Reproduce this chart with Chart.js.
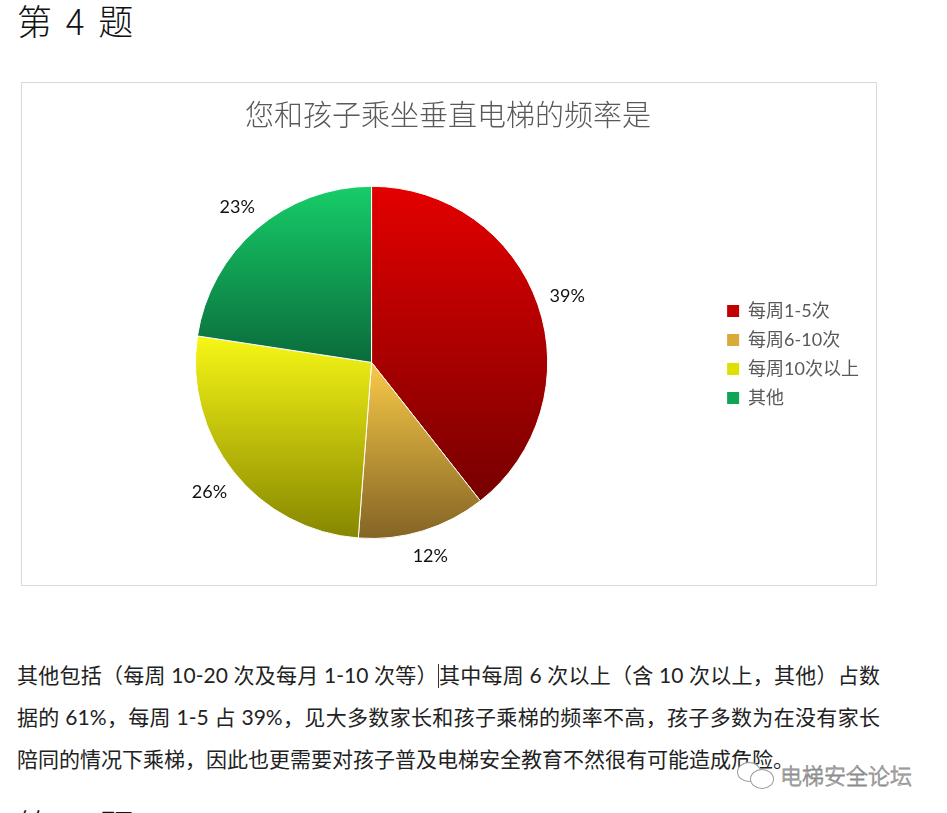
<!DOCTYPE html>
<html>
<head>
<meta charset="utf-8">
<script src="https://cdn.jsdelivr.net/npm/chart.js@4"></script>
<style>
  body { margin: 0; background: #fff; width: 947px; height: 813px; overflow: hidden; position: relative; }
  .heading { position: absolute; left: 17px; font: 300 35px "Noto Sans CJK SC", sans-serif; color: #111; line-height: 1; white-space: pre; word-spacing: 6px; }
  #box { position: absolute; left: 21px; top: 82px; width: 856px; height: 504px; box-sizing: border-box; border: 1px solid #d9d9d9; }
  #wrap { position: absolute; left: 0; top: 0; width: 854px; height: 502px; }
  #para { position: absolute; left: 17px; top: 654px; width: 863px; font: 21px Lato, "Noto Sans CJK SC", sans-serif; line-height: 42px; color: #222; text-align: justify; }
  #caret { display: inline-block; width: 1px; height: 24px; background: #333; vertical-align: -5px; }
  #mark { position: absolute; left: 780px; top: 758px; font: 300 22px "Noto Sans CJK SC", sans-serif; color: #fff; -webkit-text-stroke: 0.8px #8a8a8a; white-space: nowrap; }
  .bub { position: absolute; border: 1.5px solid #9a9a9a; border-radius: 50%; background: #fff; }
</style>
</head>
<body>
<div class="heading" style="top:2px">第 4 题</div>

<div id="box">
  <div id="wrap"><canvas id="grafico"></canvas></div>
</div>

<div id="para">其他包括（每周 10-20 次及每月 1-10 次等）<span id="caret"></span>其中每周 6 次以上（含 10 次以上，其他）占数据的 61%，每周 1-5 占 39%，见大多数家长和孩子乘梯的频率不高，孩子多数为在没有家长陪同的情况下乘梯，因此也更需要对孩子普及电梯安全教育不然很有可能造成危险。</div>

<div class="bub" style="left:737px;top:762px;width:22px;height:18px"></div>
<div class="bub" style="left:750px;top:769px;width:22px;height:18px"></div>
<div id="mark">电梯安全论坛</div>

<div class="heading" style="top:807px">第 5 题</div>

<script>
const categories = ["每周1-5次", "每周6-10次", "每周10次以上", "其他"];
const shares = [39.4, 11.8, 26.2, 22.6];
const chartTitle = "您和孩子乘坐垂直电梯的频率是";

// top / bottom colour of each slice gradient, and flat legend swatch
const topColors = ["#e40000", "#f9ca48", "#f7f716", "#17cd69"];
const bottomColors = ["#760000", "#836424", "#868600", "#0a6b3b"];
const swatchColors = ["#c20000", "#d9a93a", "#e0e000", "#11a455"];

function sliceGradient(context) {
    var chart = context.chart;
    var area = chart.chartArea;
    var i = context.dataIndex;
    if (!area) return topColors[i];
    var cx = (area.left + area.right) / 2;
    var cy = (area.top + area.bottom) / 2;
    var r = chart.getDatasetMeta(0).controller.outerRadius || Math.min(area.width, area.height) / 2;
    var total = shares.reduce(function (a, b) { return a + b; }, 0);
    var before = 0;
    for (var k = 0; k < i; k++) before += shares[k];
    var a0 = -Math.PI / 2 + 2 * Math.PI * before / total;
    var a1 = a0 + 2 * Math.PI * shares[i] / total;
    var ys = [cy, cy + r * Math.sin(a0), cy + r * Math.sin(a1)];
    [-Math.PI / 2, Math.PI / 2, 3 * Math.PI / 2].forEach(function (a) {
        if (a > a0 && a < a1) ys.push(cy + r * Math.sin(a));
    });
    var g = chart.ctx.createLinearGradient(0, Math.min.apply(null, ys), 0, Math.max.apply(null, ys));
    g.addColorStop(0, topColors[i]);
    g.addColorStop(1, bottomColors[i]);
    return g;
}

// percentage labels just outside each slice
var outsideLabels = {
    id: "outsideLabels",
    afterDatasetsDraw: function (chart) {
        var ctx = chart.ctx;
        var meta = chart.getDatasetMeta(0);
        ctx.save();
        ctx.font = "18px Lato";
        ctx.fillStyle = "#111";
        ctx.textAlign = "center";
        ctx.textBaseline = "middle";
        meta.data.forEach(function (arc, i) {
            var p = arc.getProps(["x", "y", "startAngle", "endAngle", "outerRadius"], true);
            var mid = (p.startAngle + p.endAngle) / 2;
            var dx = Math.cos(mid), dy = Math.sin(mid);
            var text = Math.round(shares[i]) + "%";
            var w = ctx.measureText(text).width;
            var d = p.outerRadius + 11 + Math.abs(dx) * w / 2 + Math.abs(dy) * 10;
            ctx.fillText(text, p.x + dx * d, p.y + dy * d + 1);
        });
        ctx.restore();
    }
};

var data = {
    labels: categories,
    datasets: [{
        data: shares,
        backgroundColor: sliceGradient,
        borderColor: "#ffffff",
        borderWidth: 1
    }]
};

var options = {
    responsive: true,
    maintainAspectRatio: false,
    animation: false,
    layout: { padding: { left: 5, right: 7, top: 0, bottom: 46 } },
    plugins: {
        tooltip: { enabled: false },
        title: {
            display: true,
            text: chartTitle,
            color: "#595959",
            font: { family: "'Noto Sans CJK SC', sans-serif", size: 29, weight: "300" },
            padding: { top: 15, bottom: 53 }
        },
        legend: {
            position: "right",
            align: "start",
            title: { display: true, text: "", font: { size: 12 }, padding: { top: 193.6, bottom: 0 } },
            labels: {
                boxWidth: 12,
                boxHeight: 12,
                padding: 11,
                color: "#595959",
                font: { family: "Lato, 'Noto Sans CJK SC', sans-serif", size: 18 },
                generateLabels: function (chart) {
                    var items = Chart.controllers.pie.overrides.plugins.legend.labels.generateLabels(chart);
                    items.forEach(function (item, i) {
                        item.fillStyle = swatchColors[i];
                        item.lineWidth = 0;
                        item.strokeStyle = swatchColors[i];
                    });
                    return items;
                }
            }
        }
    }
};

var ctx = document.querySelector("#grafico").getContext("2d");
var pieChart = new Chart(ctx, {
    type: "pie",
    data: data,
    options: options,
    plugins: [outsideLabels]
});
</script>
</body>
</html>
